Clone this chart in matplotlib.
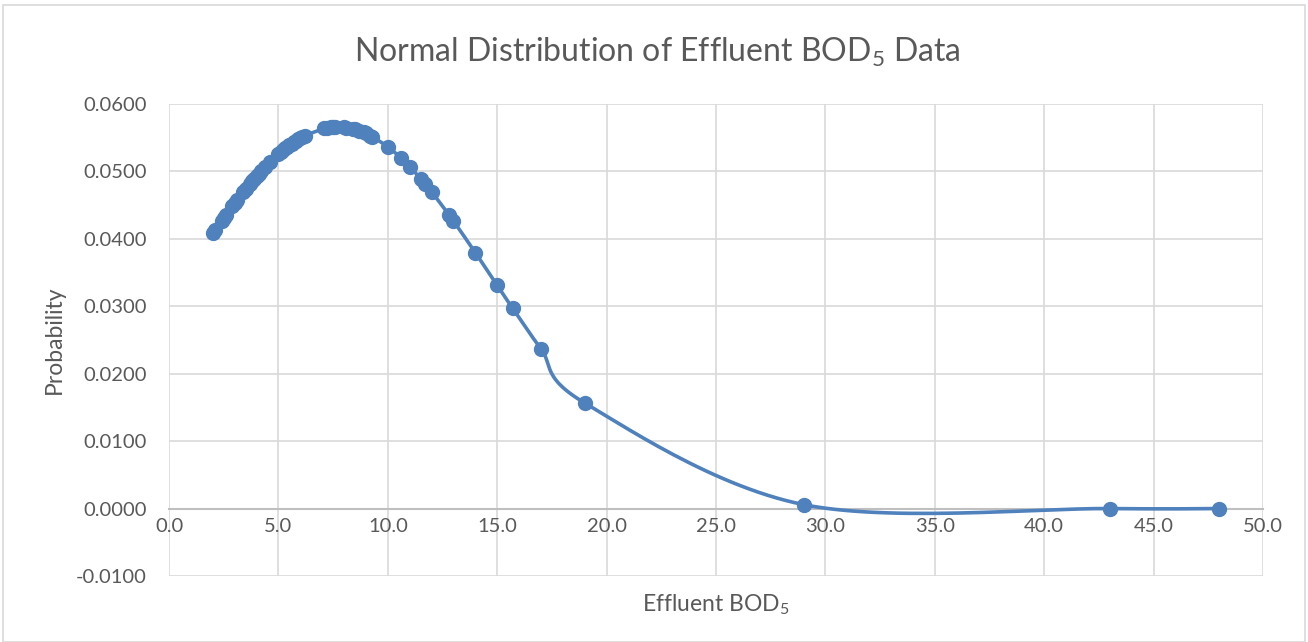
"""Normal distribution of effluent BOD5 - Excel style scatter with smoothed line."""
import numpy as np
import matplotlib
matplotlib.use("Agg")
import matplotlib.pyplot as plt
from matplotlib.patches import Rectangle

plt.rcParams["font.family"] = ["Lato", "DejaVu Sans"]
plt.rcParams["mathtext.fontset"] = "custom"
plt.rcParams["mathtext.rm"] = "Lato"

# effluent BOD5 values (sorted) and their normal probability
bod = [2.0, 2.1, 2.4, 2.5, 2.6, 2.9, 3.0, 3.1, 3.4, 3.5, 3.7, 3.8, 3.9, 4.0,
       4.1, 4.2, 4.4, 4.6, 5.0, 5.1, 5.2, 5.3, 5.4, 5.5, 5.6, 5.7, 5.8, 5.9,
       6.0, 6.1, 6.2, 7.1, 7.2, 7.4, 7.5, 7.6, 8.0, 8.1, 8.4, 8.5, 8.7, 8.9,
       9.0, 9.2, 9.3, 10.0, 10.6, 11.0, 11.5, 11.7, 12.0, 12.8, 13.0, 14.0,
       15.0, 15.7, 17.0, 19.0, 29.0, 43.0, 48.0]
prob = [0.04081, 0.04128, 0.04266, 0.04312, 0.04356, 0.04488, 0.04531, 0.04574,
        0.04699, 0.04739, 0.04818, 0.04856, 0.04894, 0.04931, 0.04967, 0.05003,
        0.05072, 0.05137, 0.05259, 0.05287, 0.05314, 0.05341, 0.05366, 0.05390,
        0.05413, 0.05436, 0.05457, 0.05477, 0.05497, 0.05515, 0.05532, 0.05639,
        0.05645, 0.05654, 0.05657, 0.05659, 0.05654, 0.05650, 0.05631, 0.05623,
        0.05603, 0.05578, 0.05564, 0.05532, 0.05515, 0.05366, 0.05200, 0.05072,
        0.04894, 0.04818, 0.04699, 0.04356, 0.04266, 0.03796, 0.03310, 0.02973,
        0.02371, 0.01566, 0.00059, 0.0000002, 0.0]

x_ticks = [0, 5, 10, 15, 20, 25, 30, 35, 40, 45, 50]
y_ticks = [-0.01, 0.0, 0.01, 0.02, 0.03, 0.04, 0.05, 0.06]

BLUE = "#4F81BD"
GRID = "#D9D9D9"
TEXT = "#595959"


def smooth_line(xs, ys, n=30):
    # Excel-like smoothing: cubic Bezier with Catmull-Rom control points
    p = np.column_stack([xs, ys]).astype(float)
    out = []
    for i in range(len(p) - 1):
        p0 = p[i - 1] if i > 0 else p[i]
        p3 = p[i + 2] if i + 2 < len(p) else p[i + 1]
        c1 = p[i] + (p[i + 1] - p0) / 6
        c2 = p[i + 1] - (p3 - p[i]) / 6
        t = np.linspace(0, 1, n)[:, None]
        seg = ((1 - t) ** 3 * p[i] + 3 * (1 - t) ** 2 * t * c1
               + 3 * (1 - t) * t ** 2 * c2 + t ** 3 * p[i + 1])
        out.append(seg)
    out = np.vstack(out)
    return out[:, 0], out[:, 1]


fig = plt.figure(figsize=(13.08, 6.42), dpi=100)
ax = fig.add_axes([169 / 1308, 66 / 642, 1094 / 1308, 472 / 642])

sx, sy = smooth_line(bod, prob)
ax.plot(sx, sy, color=BLUE, lw=2.6, solid_capstyle="round", zorder=3)
ax.plot(bod, prob, "o", color=BLUE, ms=10, mec=BLUE, zorder=4)

ax.set_xlim(0, 50)
ax.set_ylim(-0.01, 0.06)
ax.set_xticks(x_ticks)
ax.set_yticks(y_ticks)
ax.xaxis.set_major_formatter(plt.FuncFormatter(lambda v, _: f"{v:.1f}"))
ax.yaxis.set_major_formatter(plt.FuncFormatter(lambda v, _: f"{v:.4f}"))
ax.grid(True, color=GRID, lw=1.2)
ax.set_axisbelow(True)

for side in ["top", "right", "left"]:
    ax.spines[side].set_visible(False)
ax.spines["bottom"].set_position(("data", 0))
ax.spines["bottom"].set_color("#BFBFBF")
ax.spines["bottom"].set_linewidth(1.5)
ax.spines["bottom"].set_zorder(2)

ax.tick_params(axis="both", length=0, labelsize=14.5, labelcolor=TEXT)
ax.tick_params(axis="y", pad=16)
ax.tick_params(axis="x", pad=7)

ax.set_ylabel("Probability", fontsize=16.5, color=TEXT)
ax.yaxis.set_label_coords(-0.095, 0.5)
ax.set_xlabel("Effluent BOD$_{\\mathregular{5}}$", fontsize=16.5, color=TEXT)
ax.xaxis.set_label_coords(0.5, -0.035)

fig.text(0.5025, 0.918, "Normal Distribution of Effluent BOD$_{\\mathregular{5}}$ Data",
         ha="center", va="center", fontsize=23, color=TEXT)

fig.patches.append(Rectangle((3 / 1308, 0), 1 - 6 / 1308, 1 - 5 / 642,
                             transform=fig.transFigure, fill=False,
                             edgecolor=GRID, lw=1.2))

fig.savefig("out.png", dpi=100)
